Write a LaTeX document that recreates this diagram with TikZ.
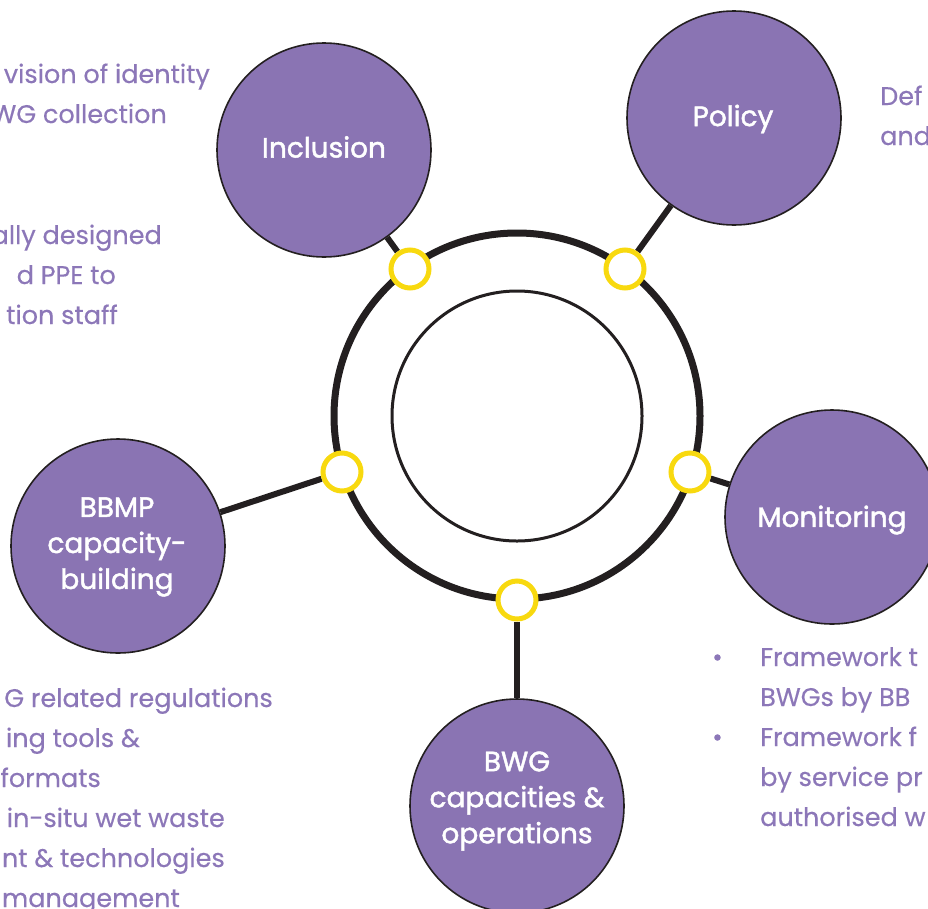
\documentclass[tikz,border=0pt]{standalone}
\usepackage{fontspec}
\setmainfont{Poppins}
\newfontfamily\topicfont{Poppins}[FakeBold=1.6]
\newfontfamily\bodyfont{Poppins}[FakeBold=0.4]
\usetikzlibrary{backgrounds}
\definecolor{purp}{HTML}{8A74B3}
\definecolor{txt}{HTML}{8C77B8}
\definecolor{ylw}{HTML}{F8D90F}
\definecolor{ink}{HTML}{231F20}
\tikzset{
  topic/.style={circle, draw=ink, line width=1.6pt, fill=purp, minimum size=214pt, inner sep=0pt},
  toptext/.style={text=white, align=center, inner sep=0pt, font=\topicfont\fontsize{28}{36}\selectfont},
  joint/.style={circle, draw=ylw, line width=5pt, fill=white, minimum size=38pt, inner sep=0pt},
  conn/.style={draw=ink, line width=6pt},
  body/.style={text=txt, inner sep=0pt, font=\bodyfont\fontsize{25.5}{40}\selectfont},
  lbody/.style={body, anchor=base east},
  rbody/.style={body, anchor=base west},
}
\begin{document}
\begin{tikzpicture}[x=1pt,y=-1pt]
\useasboundingbox (0,0) rectangle (928,908);
\clip (0,0) rectangle (928,908);
% rings
\node[circle, draw=ink, line width=7pt, minimum size=366pt, inner sep=0pt] (outer) at (517,416) {};
\node[circle, draw=ink, line width=3pt, minimum size=250pt, inner sep=0pt] (inner) at (517,416) {};
% joints
\node[joint] (j1) at (410,269) {};
\node[joint] (j2) at (625,269) {};
\node[joint] (j3) at (342,472) {};
\node[joint] (j4) at (690,472) {};
\node[joint] (j5) at (517,600) {};
% topics
\node[topic] (inc) at (324,150) {};
\node[topic] (pol) at (734,118) {};
\node[topic] (mon) at (832,517) {};
\node[topic] (bbmp) at (118,546) {};
\node[topic] (bwg) at (517,806) {};
\node[toptext] (inct) at (324,147) {Inclusion};
\node[toptext] (polt) at (733,119) {Policy};
\node[toptext] (mont) at (832,520) {Monitoring};
\node[toptext] (bbmpt) at (117,547) {BBMP\\capacity-\\building};
\node[toptext] (bwgt) at (517,801) {BWG\\capacities \&\\operations};
% connectors
\begin{scope}[on background layer]
\draw[conn] (j1) -- (inc);
\draw[conn] (j2) -- (pol);
\draw[conn] (j3) -- (bbmp);
\draw[conn] (j4) -- (mon);
\draw[conn] (j5) -- (bwg);
\end{scope}
% text top-left
\node[lbody] (t1) at (210,83) {vision of identity};
\node[lbody] (t2) at (167,123) {WG collection};
\node[lbody] (t3) at (162,244) {ally designed};
\node[lbody] (t4) at (116,284) {d PPE to};
\node[lbody] (t5) at (118,324) {tion staff};
% text top-right
\node[rbody] (r1) at (880,105) {Def};
\node[rbody] (r2) at (880,145) {and};
% text bottom-left
\node[lbody] (b1) at (273,707) {G related regulations};
\node[lbody] (b2) at (140,747) {ing tools \&};
\node[lbody] (b3) at (101,787) {formats};
\node[lbody] (b4) at (225,827) {in-situ wet waste};
\node[lbody] (b5) at (225,867) {nt \& technologies};
\node[lbody] (b6) at (180,907) {management};
% text bottom-right
\node[rbody] (d1) at (712,666) {•};
\node[rbody] (d2) at (712,746) {•};
\node[rbody] (m1) at (760,666) {Framework t};
\node[rbody] (m2) at (760,706) {BWGs by BB};
\node[rbody] (m3) at (760,746) {Framework f};
\node[rbody] (m4) at (760,786) {by service pr};
\node[rbody] (m5) at (760,826) {authorised w};
\end{tikzpicture}
\end{document}
